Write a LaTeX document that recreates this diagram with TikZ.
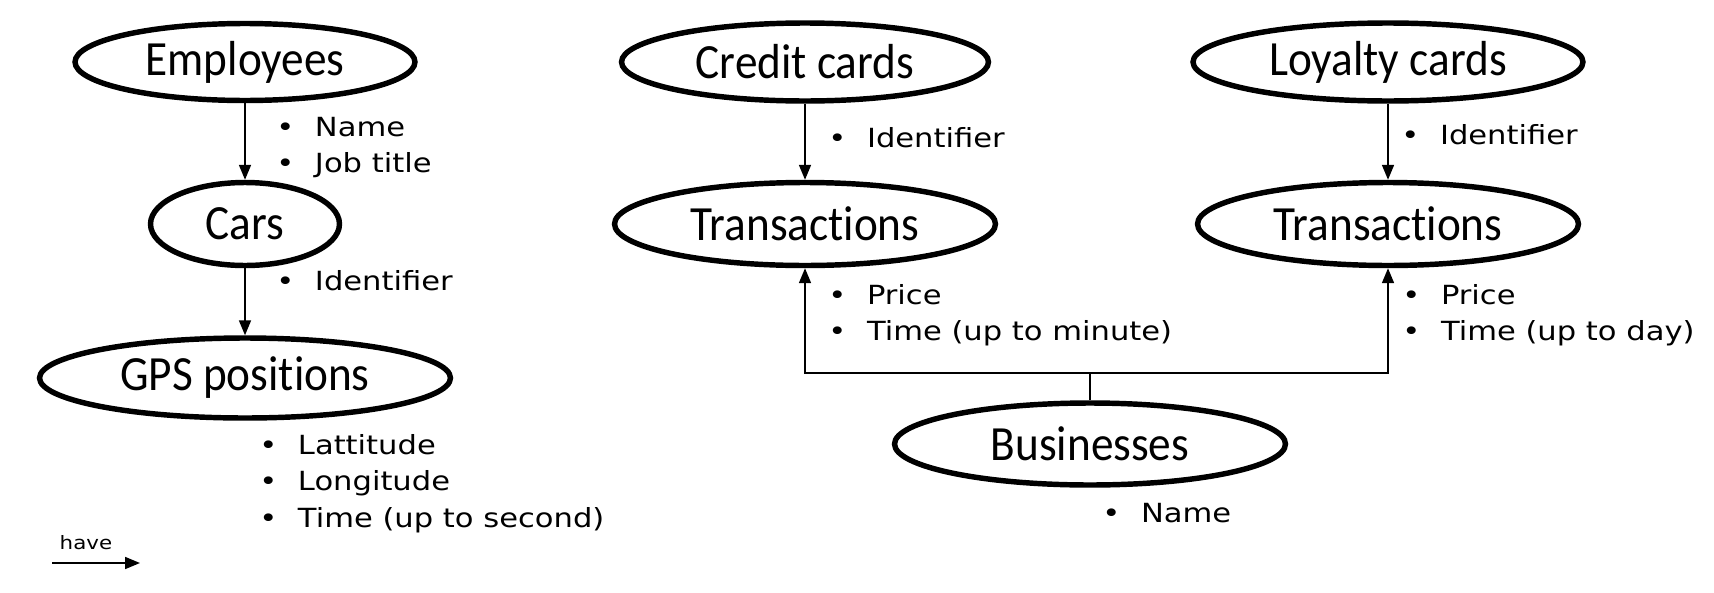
\documentclass[tikz,border=0pt]{standalone}
\usepackage{fontspec}
\usepackage{tikz}
\usetikzlibrary{shapes.geometric,arrows.meta}

\newfontfamily\titlefont[FakeStretch=0.92,Ligatures=NoCommon]{Carlito}
\newfontfamily\attrfont[FakeStretch=1.16]{DejaVu Sans}
\newcommand{\itm}[1]{\makebox[22pt][l]{\textbullet}#1}

\begin{document}
\begin{tikzpicture}[x=0.02cm,y=-0.02cm,
    entity/.style={ellipse,draw,line width=3.1pt,inner sep=0pt,
      font=\titlefont\fontsize{28}{32}\selectfont},
    attr/.style={anchor=base west,align=left,inner sep=0pt,
      font=\attrfont\fontsize{15}{20}\selectfont},
    link/.style={line width=1pt,-{Triangle[length=8.5pt,width=6.8pt]}}]
            \useasboundingbox (0,0) rectangle (1714,592);

            % Draw the entities
            \node[entity,minimum width=6.8cm,minimum height=1.54cm] (employees) at (245,62) {Employees};
            \node[entity,minimum width=3.78cm,minimum height=1.66cm] (cars) at (245,224) {Cars};
            \node[entity,minimum width=8.22cm,minimum height=1.6cm] (gps) at (245,378) {GPS positions};
            \node[entity,minimum width=7.34cm,minimum height=1.56cm] (credit) at (805,62) {Credit cards};
            \node[entity,minimum width=7.62cm,minimum height=1.66cm] (transcredit) at (805,224) {Transactions};
            \node[entity,minimum width=7.8cm,minimum height=1.56cm] (loyalty) at (1388,62) {Loyalty cards};
            \node[entity,minimum width=7.62cm,minimum height=1.66cm] (transloyalty) at (1388,224) {Transactions};
            \node[entity,minimum width=7.82cm,minimum height=1.64cm] (businesses) at (1090,444) {Businesses};

            % Draw the links between the entities
            \draw[link] (employees) -- (cars);
            \draw[link] (cars) -- (gps);
            \draw[link] (credit) -- (transcredit);
            \draw[link] (loyalty) -- (transloyalty);
            \coordinate (join) at (1090,373);
            \draw[line width=1pt] (businesses.north) -- (join);
            \draw[link] (join) -| (transcredit.south);
            \draw[link] (join) -| (transloyalty.south);

            % Add the attributes (anchored at the last line)
            \node[attr] (empattr) at (276,172) {\itm{Name}\\\itm{Job title}};
            \node[attr] (carsattr) at (276,290) {\itm{Identifier}};
            \node[attr] (gpsattr) at (259,527) {\itm{Lattitude}\\[0.5pt]\itm{Longitude}\\[0.5pt]\itm{Time (up to second)}};
            \node[attr] (creditattr) at (828,147) {\itm{Identifier}};
            \node[attr] (loyaltyattr) at (1401,144) {\itm{Identifier}};
            \node[attr] (transcreditattr) at (828,340) {\itm{Price}\\\itm{Time (up to minute)}};
            \node[attr] (transloyaltyattr) at (1402,340) {\itm{Price}\\\itm{Time (up to day)}};
            \node[attr] (businessesattr) at (1102,522) {\itm{Name}};

            % Add the legend
            \node[font=\attrfont\fontsize{10.5}{12}\selectfont] (have) at (86,543) {have};
            \coordinate (legendstart) at (52,563);
            \coordinate (legendend) at (140,563);
            \draw[link] (legendstart) -- (legendend);
        \end{tikzpicture}
\end{document}
